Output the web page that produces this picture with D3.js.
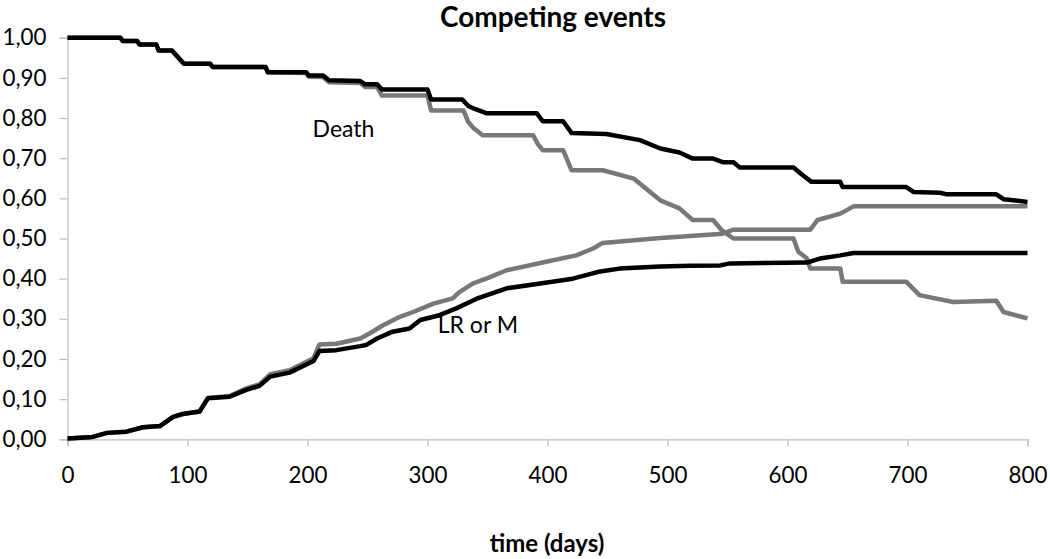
<!DOCTYPE html>
<html>
<head>
<meta charset="utf-8">
<script src="https://cdn.jsdelivr.net/npm/d3@7"></script>
<style>
  html, body { margin: 0; padding: 0; background: #fff; }
  svg { display: block; }
  text { font-family: Lato, "Open Sans", sans-serif; fill: #000; }
</style>
</head>
<body>
<svg id="chart" width="1050" height="559"></svg>
<script>
// ---- Data ----
const chartTitle = "Competing events";
const xAxisTitle = "time (days)";
const xTicks = [0, 100, 200, 300, 400, 500, 600, 700, 800];
const yTicks = [0, 0.1, 0.2, 0.3, 0.4, 0.5, 0.6, 0.7, 0.8, 0.9, 1.0];

// upper black: 1 - cumulative incidence of death (competing risks)
const deathCompeting = [[0,1.00],[44,1.00],[46,0.992],[58,0.992],[60,0.983],[74,0.983],[76,0.968],[87,0.968],[97,0.935],[119,0.935],[121,0.927],[165,0.927],[167,0.914],[199,0.914],[201,0.906],[213,0.906],[218,0.894],[244,0.892],[248,0.884],[258,0.884],[262,0.871],[300,0.871],[303,0.846],[329,0.846],[334,0.830],[340,0.822],[349,0.812],[391,0.812],[396,0.792],[413,0.792],[420,0.763],[449,0.760],[477,0.745],[494,0.724],[510,0.714],[521,0.699],[538,0.699],[546,0.690],[555,0.690],[560,0.677],[605,0.677],[613,0.657],[620,0.641],[644,0.641],[646,0.628],[699,0.628],[705,0.616],[727,0.614],[733,0.610],[774,0.610],[780,0.598],[800,0.591]];

// upper gray: naive Kaplan-Meier for death
const deathKM = [[0,1.00],[44,1.00],[46,0.992],[58,0.992],[60,0.983],[74,0.983],[76,0.968],[87,0.968],[97,0.935],[119,0.935],[121,0.927],[165,0.927],[167,0.914],[199,0.912],[201,0.903],[213,0.902],[218,0.889],[244,0.887],[248,0.877],[258,0.877],[262,0.856],[300,0.856],[303,0.819],[330,0.819],[334,0.790],[338,0.776],[346,0.757],[388,0.757],[392,0.735],[396,0.720],[413,0.720],[420,0.670],[446,0.670],[472,0.649],[494,0.595],[510,0.575],[521,0.546],[538,0.546],[545,0.521],[555,0.500],[605,0.500],[609,0.467],[616,0.451],[619,0.425],[644,0.425],[646,0.392],[699,0.392],[710,0.359],[738,0.342],[774,0.345],[780,0.317],[800,0.301]];

// lower black: cumulative incidence of LR or M (competing risks)
const lrmCompeting = [[0,0.002],[21,0.006],[33,0.016],[49,0.019],[63,0.030],[77,0.033],[88,0.056],[96,0.063],[110,0.069],[117,0.102],[135,0.106],[149,0.123],[160,0.133],[169,0.156],[185,0.166],[205,0.195],[210,0.220],[224,0.222],[244,0.232],[249,0.235],[258,0.251],[271,0.268],[285,0.276],[294,0.297],[310,0.309],[324,0.326],[341,0.350],[366,0.376],[394,0.388],[421,0.400],[444,0.418],[460,0.425],[494,0.430],[519,0.432],[544,0.433],[552,0.438],[616,0.440],[627,0.450],[644,0.458],[655,0.464],[800,0.464]];

// lower gray: naive 1 - Kaplan-Meier for LR or M
const lrmKM = [[0,0.002],[21,0.006],[33,0.016],[49,0.019],[63,0.030],[77,0.033],[88,0.056],[96,0.063],[110,0.069],[117,0.103],[135,0.108],[149,0.127],[160,0.137],[169,0.162],[185,0.172],[205,0.202],[210,0.236],[224,0.238],[244,0.251],[252,0.264],[263,0.284],[277,0.305],[288,0.317],[305,0.338],[321,0.351],[326,0.365],[338,0.388],[349,0.400],[366,0.421],[394,0.439],[424,0.458],[438,0.475],[446,0.489],[494,0.501],[519,0.506],[546,0.512],[555,0.522],[619,0.522],[625,0.546],[644,0.562],[655,0.580],[800,0.580]];

const series = [
  { data: deathKM, color: "#787878" },
  { data: lrmKM, color: "#787878" },
  { data: deathCompeting, color: "#000000" },
  { data: lrmCompeting, color: "#000000" }
];

const labels = [
  { text: "Death", x: 230, y: 0.752 },
  { text: "LR or M", x: 342, y: 0.265 }
];

// ---- Layout ----
const svg = d3.select("#chart");
const plotLeft = 67.5, plotRight = 1027.5, plotTop = 37.7, plotBottom = 439.3;

const x = d3.scaleLinear().domain([0, 800]).range([plotLeft, plotRight]);
const y = d3.scaleLinear().domain([0, 1]).range([plotBottom, plotTop]);

const axisColor = "#bfbfbf";
const fontStack = "Lato, 'Open Sans', sans-serif";

// y axis
const yAxis = svg.append("g").attr("transform", `translate(${plotLeft},0)`)
  .call(d3.axisLeft(y).tickValues(yTicks).tickSize(8).tickPadding(13)
    .tickFormat(d => d3.format(".2f")(d).replace(".", ",")));
yAxis.select(".domain").attr("stroke", axisColor).attr("stroke-width", 1.2);
yAxis.selectAll(".tick line").attr("stroke", axisColor).attr("stroke-width", 1.2);
yAxis.selectAll(".tick text").attr("font-size", 22.4).attr("fill", "#000")
  .attr("font-family", fontStack);

// x axis
const xAxis = svg.append("g").attr("transform", `translate(0,${plotBottom})`)
  .call(d3.axisBottom(x).tickValues(xTicks).tickSize(7).tickPadding(21));
xAxis.select(".domain").attr("stroke", axisColor).attr("stroke-width", 1.2);
xAxis.selectAll(".tick line").attr("stroke", axisColor).attr("stroke-width", 1.2);
xAxis.selectAll(".tick text").attr("font-size", 22.4).attr("fill", "#000")
  .attr("font-family", fontStack);

// lines
const line = d3.line().x(d => x(d[0])).y(d => y(d[1])).curve(d3.curveLinear);
svg.append("g").selectAll("path").data(series).join("path")
  .attr("d", d => line(d.data))
  .attr("fill", "none")
  .attr("stroke", d => d.color)
  .attr("stroke-width", 4.5)
  .attr("stroke-linejoin", "round")
  .attr("stroke-linecap", "butt");

// in-plot labels
svg.append("g").selectAll("text").data(labels).join("text")
  .attr("x", d => x(d.x)).attr("y", d => y(d.y))
  .attr("text-anchor", "middle").attr("font-size", 23)
  .text(d => d.text);

// title
svg.append("text").attr("x", 553).attr("y", 27)
  .attr("text-anchor", "middle").attr("font-size", 28).attr("font-weight", "bold")
  .text(chartTitle);

// x axis title
svg.append("text").attr("x", 547).attr("y", 552)
  .attr("text-anchor", "middle").attr("font-size", 24).attr("font-weight", "bold")
  .text(xAxisTitle);
</script>
</body>
</html>
